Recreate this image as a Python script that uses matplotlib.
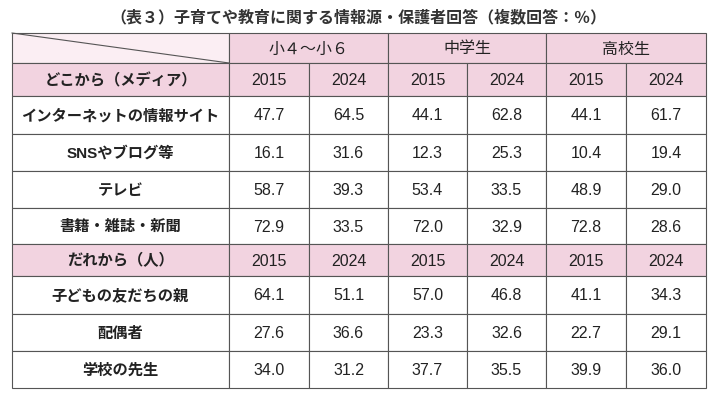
import matplotlib
matplotlib.use("Agg")
import matplotlib.pyplot as plt
from matplotlib.patches import Rectangle

plt.rcParams["font.family"] = ["Liberation Sans", "Noto Sans CJK JP"]

title = "（表３）子育てや教育に関する情報源・保護者回答（複数回答：％）"
groups = ["小４～小６", "中学生", "高校生"]
years = ["2015", "2024"]
media_header = "どこから（メディア）"
media_labels = ["インターネットの情報サイト", "SNSやブログ等", "テレビ", "書籍・雑誌・新聞"]
media_values = [
    [47.7, 64.5, 44.1, 62.8, 44.1, 61.7],
    [16.1, 31.6, 12.3, 25.3, 10.4, 19.4],
    [58.7, 39.3, 53.4, 33.5, 48.9, 29.0],
    [72.9, 33.5, 72.0, 32.9, 72.8, 28.6],
]
people_header = "だれから（人）"
people_labels = ["子どもの友だちの親", "配偶者", "学校の先生"]
people_values = [
    [64.1, 51.1, 57.0, 46.8, 41.1, 34.3],
    [27.6, 36.6, 23.3, 32.6, 22.7, 29.1],
    [34.0, 31.2, 37.7, 35.5, 39.9, 36.0],
]

fig = plt.figure(figsize=(7.17, 4.0), dpi=100)
ax = fig.add_axes([0, 0, 1, 1])
ax.set_xlim(0, 717); ax.set_ylim(400, 0); ax.axis("off")

HDR = "#f2d3e0"; LIGHT = "#fbeef3"; LINE = "#555555"
xs = [12, 229, 309, 388, 467, 546, 626, 706]
rows = [33, 63, 96, 134, 171, 208, 244, 276, 314, 351, 388]

ax.text(358, 17, title, ha="center", va="center", fontsize=11.5, fontweight="bold", color="#333333")

def cell(x0, x1, y0, y1, color, text=None, bold=False, fs=11.5):
    ax.add_patch(Rectangle((x0, y0), x1 - x0, y1 - y0, facecolor=color, edgecolor=LINE, lw=0.8))
    if text is not None:
        ax.text((x0 + x1) / 2, (y0 + y1) / 2 + 1, text, ha="center", va="center",
                fontsize=fs, fontweight="bold" if bold else "normal", color="#222222")

cell(xs[0], xs[1], rows[0], rows[1], LIGHT)
ax.plot([xs[0], xs[1]], [rows[0], rows[1]], color=LINE, lw=0.8)
for g, name in enumerate(groups):
    cell(xs[1 + 2 * g], xs[3 + 2 * g], rows[0], rows[1], HDR, name)

def section(r, header, labels, values):
    cell(xs[0], xs[1], rows[r], rows[r + 1], HDR, header, bold=True, fs=11)
    for c in range(6):
        cell(xs[1 + c], xs[2 + c], rows[r], rows[r + 1], HDR, years[c % 2])
    for i, (lab, vals) in enumerate(zip(labels, values)):
        y0, y1 = rows[r + 1 + i], rows[r + 2 + i]
        cell(xs[0], xs[1], y0, y1, "white", lab, bold=True, fs=11)
        for c, v in enumerate(vals):
            cell(xs[1 + c], xs[2 + c], y0, y1, "white", f"{v:.1f}")

section(1, media_header, media_labels, media_values)
section(6, people_header, people_labels, people_values)

fig.savefig("out.png", dpi=100)
